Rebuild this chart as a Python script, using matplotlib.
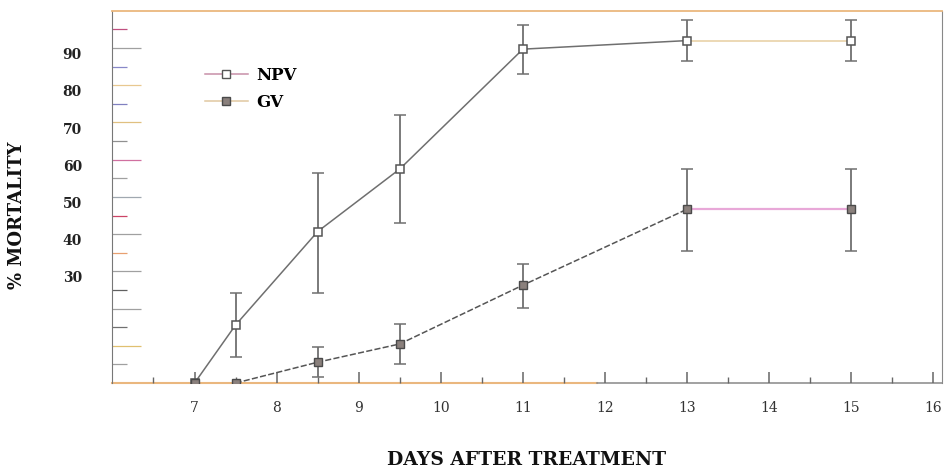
import matplotlib.pyplot as plt
from matplotlib.lines import Line2D
from matplotlib.transforms import ScaledTranslation
import numpy as np

# data
days = [7, 7.5, 8.5, 9.5, 11, 13, 15]
npv = [0, 15.6, 40.7, 57.5, 89.7, 92.0, 92.0]
npv_lo = [0, 8.6, 16.4, 14.4, 6.7, 5.6, 5.6]
npv_hi = [0, 8.6, 15.8, 14.5, 6.5, 5.6, 5.6]
gv = [0, 0, 5.6, 10.5, 26.3, 46.7, 46.7]
gv_lo = [0, 0, 4.0, 5.4, 6.1, 11.2, 11.2]
gv_hi = [0, 0, 4.1, 5.4, 5.7, 10.8, 10.8]

xticks = list(range(7, 17))
yticks = [10, 20, 30, 40, 50, 60, 70, 80, 90]
ytick_labels = ['', '', '30', '40', '50', '60', '70', '80', '90']

serif = ['DejaVu Serif']

fig = plt.figure(figsize=(9.53, 4.70), dpi=100)
ax = fig.add_axes([0.118, 0.185, 0.870, 0.792])

grey = '#6f6f6f'

# NPV: grey line up to day 13, tan segment 13-15
ax.plot(days[:6], npv[:6], color=grey, lw=1.1, zorder=2)
ax.plot(days[5:], npv[5:], color='#ecd8b4', lw=1.4, zorder=2)
ax.errorbar(days[1:], npv[1:], yerr=[npv_lo[1:], npv_hi[1:]], fmt='none',
            ecolor=grey, elinewidth=1.3, capsize=4, capthick=1.1, zorder=3)
ax.plot(days, npv, ls='none', marker='s', ms=6, mfc='white', mec='#555555',
        mew=1.1, zorder=5)

# GV: orange on the axis, dashed rise, pink plateau
ax.plot(days[:2], gv[:2], color='#eab77e', lw=1.4, zorder=2)
ax.plot(days[1:6], gv[1:6], color='#555555', lw=1.1, ls=(0, (4, 1.5)), zorder=2)
ax.plot(days[5:], gv[5:], color='#e8a8d8', lw=1.6, zorder=2)
ax.errorbar(days[2:], gv[2:], yerr=[gv_lo[2:], gv_hi[2:]], fmt='none',
            ecolor=grey, elinewidth=1.3, capsize=4, capthick=1.1, zorder=3)
ax.plot(days, gv, ls='none', marker='s', ms=5.5, mfc='#8a807c', mec='#4a4a4a',
        mew=1.0, zorder=5)

ax.set_xlim(6, 16.1)
ax.set_ylim(0, 100)

# spines
ax.spines['top'].set_color('#eab77e')
ax.spines['top'].set_linewidth(1.3)
ax.spines['left'].set_color('#777777')
ax.spines['right'].set_color('#888888')
ax.spines['bottom'].set_visible(False)
ax.axhline(0, xmin=0, xmax=0.585, color='#eab77e', lw=1.5, zorder=1, clip_on=False)
ax.axhline(0, xmin=0.585, xmax=1, color='#888888', lw=1.1, zorder=1, clip_on=False)

# x ticks
ax.set_xticks(xticks)
ax.set_xticklabels([str(t) for t in xticks], family=serif, fontsize=10,
                   color='#333333')
ax.set_xticks(np.arange(6.5, 16, 1.0), minor=True)
ax.tick_params(axis='x', which='major', direction='in', length=8, width=1.1,
               color='#666666', pad=13)
ax.tick_params(axis='x', which='minor', direction='in', length=4, width=1.0,
               color='#666666')
ax.tick_params(axis='x', top=False, which='both')

# y ticks
ax.set_yticks(yticks)
ax.set_yticklabels(ytick_labels, family=serif, fontsize=10, fontweight='bold',
                   color='#222222')
ax.set_yticks(np.arange(5, 100, 10), minor=True)
ax.tick_params(axis='y', which='major', direction='in', length=21, width=0.9,
               color='#a0a0a0', pad=22)
ax.tick_params(axis='y', which='minor', direction='in', length=11, width=0.9,
               color='#909090')
ax.tick_params(axis='y', right=False, which='both')

ax.set_xlabel('DAYS AFTER TREATMENT', family=serif, fontsize=13.5,
              fontweight='bold', labelpad=26, color='#111111')
ax.set_ylabel('% MORTALITY', family=serif, fontsize=13, fontweight='bold',
              color='#111111')
ax.yaxis.set_label_coords(-0.104, 0.452)

handles = [
    Line2D([], [], color='#c890a8', lw=1.1, marker='s', ms=6, mfc='white',
           mec='#555555'),
    Line2D([], [], color='#e0c8a0', lw=1.1, marker='s', ms=5.5, mfc='#8a807c',
           mec='#4a4a4a'),
]
ax.legend(handles, ['NPV', 'GV'], loc='upper left', bbox_to_anchor=(0.093, 0.89),
          frameon=False, handlelength=2.6, handletextpad=0.5, labelspacing=0.62,
          prop={'family': serif, 'weight': 'bold', 'size': 12})

# scanned tick colours vary from tick to tick
fig.canvas.draw()
major_cols = ['#e0c070', '#a0a0a0', '#a0a0a0', '#a0a0a0', '#a0a8b0',
              '#d070a0', '#e0c080', '#e8c890', '#a0a0a0']
minor_cols = ['#a0a0a0', '#707070', '#606060', '#e8a070', '#cc4466',
              '#a0a0a0', '#909090', '#8080c0', '#8888c8', '#c05080']
for t, c in zip(ax.yaxis.get_major_ticks(), major_cols):
    t.tick1line.set_color(c)
    t.tick1line.set_markeredgecolor(c)
for t, c in zip(ax.yaxis.get_minor_ticks(), minor_cols):
    t.tick1line.set_color(c)
    t.tick1line.set_markeredgecolor(c)
shift = ScaledTranslation(0, -4 / 72, fig.dpi_scale_trans)
for lab in ax.get_yticklabels():
    lab.set_transform(lab.get_transform() + shift)

fig.savefig('out.png', dpi=100)
